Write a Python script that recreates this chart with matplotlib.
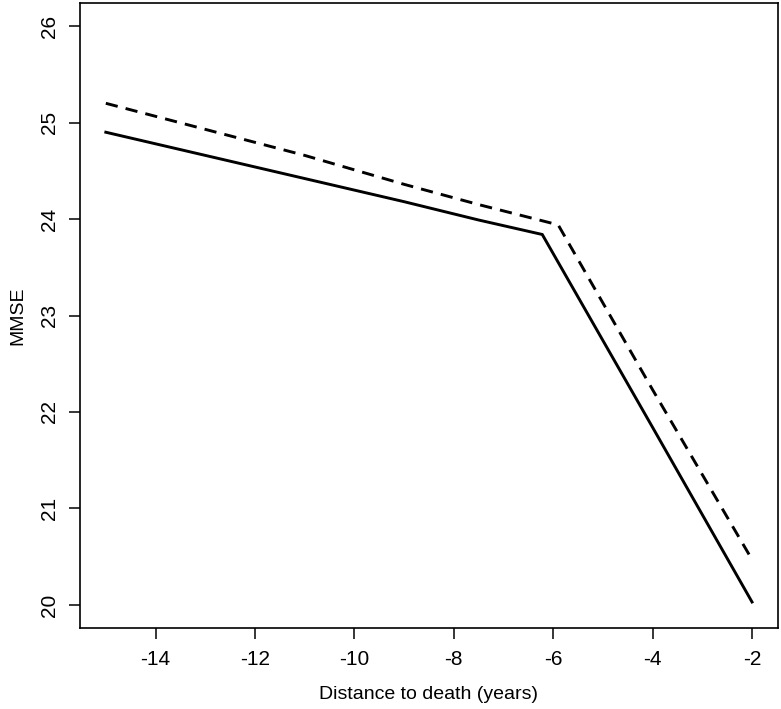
import matplotlib
matplotlib.use("Agg")
import matplotlib.pyplot as plt

plt.rcParams['font.family'] = ['Liberation Sans', 'DejaVu Sans']
plt.rcParams['axes.unicode_minus'] = False

# solid curve
solid_x = [-15, -13, -11, -9, -7.5, -6.22, -4, -2]
solid_y = [24.90, 24.66, 24.42, 24.18, 23.99, 23.84, 21.84, 20.03]

# dashed curve
dash_x = [-15, -13, -11, -9, -7.5, -5.9, -4, -2]
dash_y = [25.20, 24.93, 24.66, 24.36, 24.15, 23.94, 22.23, 20.47]

xticks = [-14, -12, -10, -8, -6, -4, -2]
yticks = [20, 21, 22, 23, 24, 25, 26]

fig = plt.figure(figsize=(7.81, 7.09), dpi=100)
ax = fig.add_axes([0.1024, 0.1142, 0.8936, 0.8816])

ax.plot(solid_x, solid_y, color='black', lw=2.1, solid_joinstyle='miter')
ax.plot(dash_x, dash_y, color='black', lw=2.1, dashes=(4.2, 2.8))

ax.set_xlim(-15.52, -1.48)
ax.set_ylim(19.76, 26.24)
ax.set_xticks(xticks)
ax.set_xticklabels([str(v) for v in xticks])
ax.set_yticks(yticks)
ax.set_yticklabels([str(v) for v in yticks], rotation=90, va='center')
ax.tick_params(length=8, width=1.1, labelsize=15, pad=8)
ax.tick_params(axis='y', pad=7)
for s in ax.spines.values():
    s.set_linewidth(1.2)

ax.set_xlabel('Distance to death (years)', fontsize=14, labelpad=12)
ax.set_ylabel('MMSE', fontsize=14, labelpad=10)

fig.savefig('out.png', dpi=100)
